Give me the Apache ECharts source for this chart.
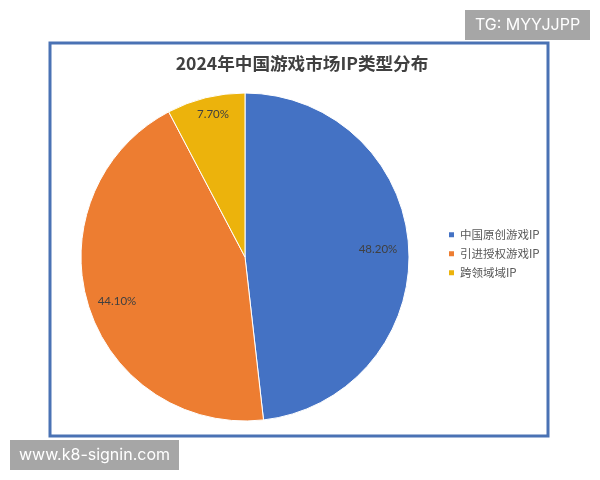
<!DOCTYPE html>
<html>
<head>
<meta charset="utf-8">
<style>
  html, body { margin: 0; padding: 0; background: #fff; }
  #main { width: 600px; height: 480px; }
</style>
<script src="https://cdn.jsdelivr.net/npm/echarts@6/dist/echarts.min.js"></script>
</head>
<body>
<div id="main"></div>
<script>
var categories = ['中国原创游戏IP', '引进授权游戏IP', '跨领域域IP'];
var shares = [48.2, 44.1, 7.7];
var colors = ['#4472c4', '#ed7d31', '#ecb30c'];
// label centres
var labelSpots = [[378, 249], [117, 301], [213, 114]];
var chartTitle = '2024年中国游戏市场IP类型分布';
var fontFamily = '"Noto Sans CJK SC", sans-serif';

var myChart = echarts.init(document.getElementById('main'));

function greyTag(x, y, w, h, text) {
  return [
    { type: 'rect', z: 10, shape: { x: x, y: y, width: w, height: h }, style: { fill: '#a6a6a6' } },
    { type: 'text', z: 11, x: x + w / 2, y: y + h / 2, style: {
      text: text, fill: '#fff', font: '16px Inter, sans-serif', align: 'center', verticalAlign: 'middle'
    } }
  ];
}

myChart.setOption({
  animation: false,
  backgroundColor: '#fff',
  color: colors,
  title: {
    text: chartTitle,
    left: 297,
    top: 50,
    textAlign: 'center',
    textStyle: { fontFamily: fontFamily, fontSize: 17.6, fontWeight: 'bold', color: '#404040' }
  },
  legend: {
    orient: 'vertical',
    left: 442,
    top: 224,
    itemWidth: 7,
    itemHeight: 7,
    itemGap: 7.5,
    icon: 'rect',
    textStyle: { fontFamily: fontFamily, fontSize: 11.5, color: '#595959' }
  },
  graphic: [
    { type: 'rect', z: -1, shape: { x: 50, y: 43, width: 498, height: 393 },
      style: { fill: '#fff', stroke: '#4a72b4', lineWidth: 3 } }
  ].concat(greyTag(465, 10, 125, 30, 'TG: MYYJJPP'), greyTag(10, 440, 169, 30, 'www.k8-signin.com')),
  series: [
    {
      type: 'pie',
      center: [245, 257],
      radius: [0, 164],
      startAngle: 90,
      clockwise: true,
      itemStyle: { borderColor: '#fff', borderWidth: 1 },
      label: {
        position: 'inside',
        fontFamily: 'Lato, sans-serif',
        fontSize: 11.5,
        color: '#404040',
        formatter: function (p) { return p.value.toFixed(2) + '%'; }
      },
      labelLine: { show: false },
      labelLayout: function (p) {
        var spot = labelSpots[p.dataIndex];
        return { x: spot[0], y: spot[1], align: 'center', verticalAlign: 'middle' };
      },
      data: categories.map(function (name, i) {
        return { name: name, value: shares[i] };
      })
    }
  ]
});
</script>
</body>
</html>
